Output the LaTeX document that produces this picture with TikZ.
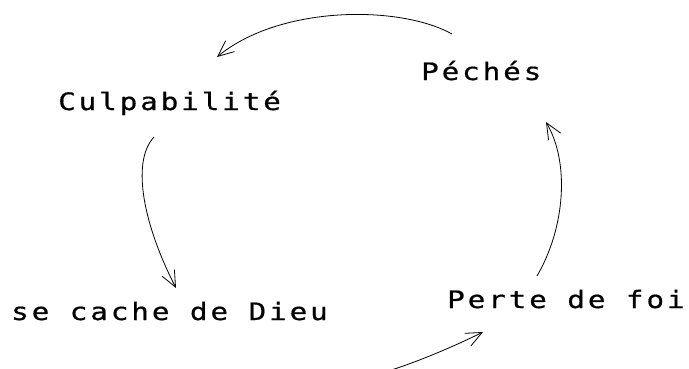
\documentclass[tikz,border=0pt]{standalone}
\usepackage{fontspec}
\usetikzlibrary{arrows.meta}
\newfontfamily\lblfont[FakeStretch=1.22,LetterSpace=12,FakeBold=0.6]{DejaVu Sans Mono}
\begin{document}
\begin{tikzpicture}[x=1pt,y=1pt,
  lbl/.style={anchor=base west,inner sep=0pt,font=\lblfont\fontsize{24}{28}\selectfont},
  arc/.style={line width=0.8pt,-{Straight Barb[length=16pt,width=14pt,line width=0.8pt]}}]
\useasboundingbox (0,0) rectangle (689,368);
\node[lbl] (peches) at (421,288) {Péchés};
\node[lbl] (culp) at (58,258) {Culpabilité};
\node[lbl] (cache) at (11,48) {se cache de Dieu};
\node[lbl] (perte) at (447,60) {Perte de foi};
\coordinate (a1) at (452,334);
\coordinate (a2) at (217,311);
\coordinate (b1) at (154,231);
\coordinate (b2) at (176,80);
\coordinate (c1) at (385,-4);
\coordinate (c2) at (483,36);
\coordinate (d1) at (537,92);
\coordinate (d2) at (546,246);
\draw[arc] (a1) .. controls (400,363) and (280,363) .. (a2);
\draw[arc] (b1) .. controls (130,205) and (145,140) .. (b2);
\draw[arc] (c1) .. controls (415,5) and (455,22) .. (c2);
\draw[arc] (d1) .. controls (565,140) and (570,205) .. (d2);
\end{tikzpicture}
\end{document}
